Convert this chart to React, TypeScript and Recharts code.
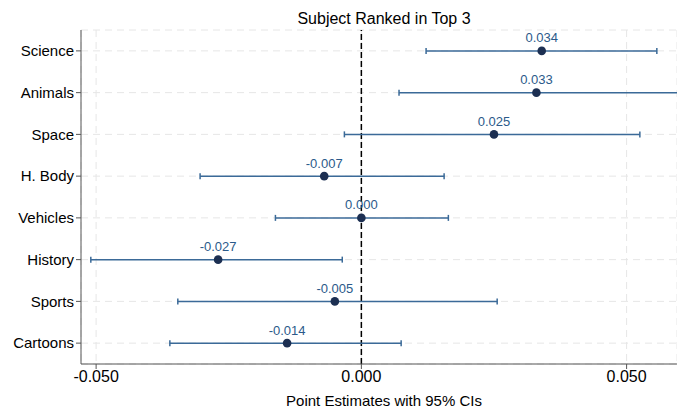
import {
  ScatterChart,
  Scatter,
  XAxis,
  YAxis,
  CartesianGrid,
  ErrorBar,
  ReferenceLine,
  LabelList,
} from "recharts";

const subjects = [
  "Science",
  "Animals",
  "Space",
  "H. Body",
  "Vehicles",
  "History",
  "Sports",
  "Cartoons",
];
const estimates = [0.034, 0.033, 0.025, -0.007, 0.0, -0.027, -0.005, -0.014];
const ciLow = [0.0122, 0.0071, -0.0032, -0.0304, -0.0162, -0.051, -0.0346, -0.0361];
const ciHigh = [0.0557, 0.064, 0.0525, 0.0156, 0.0164, -0.0036, 0.0256, 0.0075];
const xTicks = [-0.05, 0, 0.05];

const FONT = '"Liberation Sans", Arial, Helvetica, sans-serif';

const data = subjects.map((s, i) => ({
  subject: s,
  pos: i + 1,
  est: estimates[i],
  err: [estimates[i] - ciLow[i], ciHigh[i] - estimates[i]],
}));

const Dot = (props: any) => (
  <circle cx={props.cx} cy={props.cy} r={4.3} fill="#1c2f52" />
);

export default function App() {
  return (
    <div
      style={{
        position: "absolute",
        left: 0,
        top: 0,
        width: 677,
        height: 408,
        background: "#fff",
        fontFamily: FONT,
      }}
    >
      <div
        style={{
          position: "absolute",
          left: 0,
          width: 768,
          top: 10,
          textAlign: "center",
          fontSize: 16,
          color: "#000",
        }}
      >
        Subject Ranked in Top 3
      </div>
      <ScatterChart
        width={677}
        height={408}
        margin={{ top: 30, right: 0, bottom: 0, left: 0 }}
        style={{ fontFamily: FONT }}
      >
        <CartesianGrid stroke="#e6e6e6" strokeDasharray="7 5" />
        <XAxis
          type="number"
          dataKey="est"
          domain={[-0.05285, 0.0595]}
          allowDataOverflow
          ticks={xTicks}
          tickFormatter={(v: number) => v.toFixed(3)}
          height={44}
          tickSize={5}
          stroke="#555"
          tick={{ fontSize: 16, fill: "#000" }}
          label={{
            value: "Point Estimates with 95% CIs",
            position: "insideBottom",
            offset: 2,
            fontSize: 15,
            fill: "#000",
            dx: 5,
          }}
        />
        <YAxis
          type="number"
          dataKey="pos"
          domain={[0.5, 8.5]}
          reversed
          ticks={data.map((d) => d.pos)}
          tickFormatter={(v: number) => subjects[v - 1]}
          width={81}
          tickSize={5}
          stroke="#555"
          tick={{ fontSize: 15, fill: "#000" }}
        />
        <ReferenceLine x={0} stroke="#000" strokeWidth={1.5} strokeDasharray="6 3" />
        <Scatter data={data} shape={Dot} isAnimationActive={false}>
          <ErrorBar
            dataKey="err"
            direction="x"
            width={3}
            stroke="#3b6a98"
            strokeWidth={1.5}
          />
          <LabelList
            dataKey="est"
            position="top"
            offset={4}
            formatter={(v: number) => v.toFixed(3)}
            style={{ fontSize: 13, fill: "#2b5a8a" }}
          />
        </Scatter>
      </ScatterChart>
    </div>
  );
}
